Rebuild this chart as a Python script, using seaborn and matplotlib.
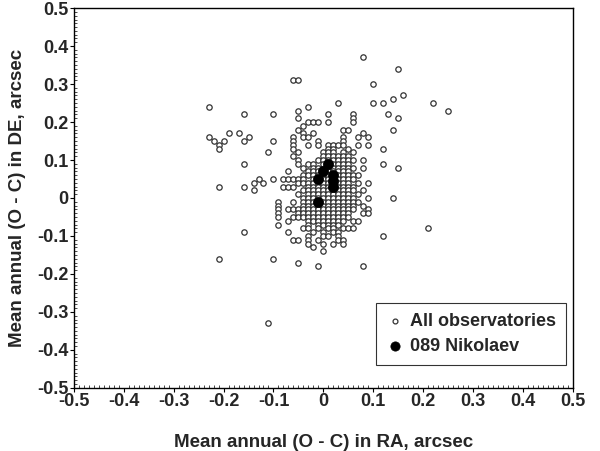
import numpy as np
import pandas as pd
import seaborn as sns
import matplotlib.pyplot as plt
from matplotlib.ticker import MultipleLocator

# DE value of each row (arcsec) and RA values in that row (hundredths of arcsec)
de_rows = [0.37, 0.34, 0.31, 0.30, 0.27, 0.26, 0.25, 0.24, 0.23, 0.22, 0.21, 0.20,
           0.19, 0.18, 0.17, 0.16, 0.15, 0.14, 0.13, 0.12, 0.11, 0.10, 0.09, 0.08,
           0.07, 0.06, 0.05, 0.04, 0.03, 0.02, 0.01, 0.00, -0.01, -0.02, -0.03,
           -0.04, -0.05, -0.06, -0.07, -0.08, -0.09, -0.10, -0.11, -0.12, -0.13,
           -0.14, -0.16, -0.17, -0.18, -0.33]
ra_rows = [
    [8], [15], [-6, -5], [10], [16], [14], [3, 10, 12, 22], [-23, -3], [-5, 25],
    [-16, -10, 1, 6, 13], [-5, 6, 15], [-3, -2, -1, 1, 6], [-4],
    [-5, 4, 5, 14], [-19, -17, -4, -2, 8], [-23, -15, -6, -4, -3, 4, 7, 9],
    [-22, -20, -16, -10, -6, -1, 4], [-21, -6, -3, -1, 1, 2, 3, 4, 7, 9],
    [-21, -6, 1, 2, 5, 12], [-11, -5, 0, 1, 2, 4, 6],
    [-6, 0, 1, 2, 3, 4, 5], [-5, -1, 0, 1, 2, 3, 4, 5, 6, 8],
    [-16, -5, -3, -2, 0, 1, 2, 3, 4, 5, 12],
    [-4, -2, -1, 1, 2, 3, 4, 5, 6, 8, 15],
    [-7, -3, -2, -1, 0, 1, 2, 3, 4, 5],
    [-4, -3, -2, -1, 0, 1, 2, 3, 4, 5, 6, 7],
    [-13, -10, -8, -7, -6, -5, -4, -2, -1, 0, 1, 2, 3, 4, 5, 6],
    [-14, -12, -5, -4, -3, -2, -1, 0, 1, 2, 3, 4, 5, 7, 9],
    [-21, -16, -8, -7, -6, -3, -2, -1, 0, 1, 2, 3, 4, 5, 6],
    [-14, -4, -3, -2, -1, 0, 1, 2, 3, 4, 5, 6, 8],
    [-5, -3, -2, -1, 0, 1, 2, 3, 4, 5, 7],
    [-4, -3, -2, -1, 0, 1, 2, 3, 4, 5, 6, 9, 14],
    [-9, -6, -4, -3, -2, -1, 0, 1, 2, 3, 4, 5, 6, 7],
    [-9, -4, -3, -2, -1, 0, 1, 2, 3, 4, 5, 6, 8],
    [-9, -7, -6, -5, -4, -3, -2, -1, 0, 1, 2, 3, 4, 5, 6, 9],
    [-9, -5, -4, -3, -2, -1, 0, 1, 2, 3, 4, 5, 8, 9],
    [-9, -6, -5, -4, -3, -2, -1, 0, 1, 2, 3, 4, 5],
    [-7, -3, -2, -1, 0, 1, 2, 3, 4, 6, 7],
    [-9, -3, -1, 0, 1, 2, 3],
    [-4, -3, -1, 1, 2, 4, 5, 6, 21],
    [-16, -7, -2, 0, 2, 3],
    [-3, 0, 1, 3, 12],
    [-6, -5, -3, -1, 3, 4],
    [-3, 0, 2, 4], [-2], [0], [-21, -10], [-5], [-1, 8], [-11],
]

# 089 Nikolaev
nik_ra = [0.01, 0.00, -0.01, 0.02, 0.02, 0.02, -0.01]
nik_de = [0.09, 0.07, 0.05, 0.06, 0.045, 0.03, -0.01]

rows = []
for de, ras in zip(de_rows, ra_rows):
    for r in ras:
        rows.append({'RA': r / 100, 'DE': de})
df_all = pd.DataFrame(rows)
df_nik = pd.DataFrame({'RA': nik_ra, 'DE': nik_de})

sns.set_style('white')
plt.rcParams['font.family'] = ['Liberation Sans', 'DejaVu Sans']
plt.rcParams['font.weight'] = 'bold'

fig = plt.figure(figsize=(6, 4.51), dpi=100)
ax = fig.add_axes([0.123, 0.140, 0.832, 0.842])

sns.scatterplot(data=df_all, x='RA', y='DE', ax=ax, s=15, marker='o',
                facecolor='white', edgecolor='#333333', linewidth=0.9,
                label='All observatories')
sns.scatterplot(data=df_nik, x='RA', y='DE', ax=ax, s=55, marker='o',
                color='black', edgecolor='black', linewidth=0.5,
                label='089 Nikolaev')

ax.set_xlim(-0.5, 0.5)
ax.set_ylim(-0.5, 0.5)
ax.xaxis.set_minor_locator(MultipleLocator(0.01))
ax.yaxis.set_minor_locator(MultipleLocator(0.01))

def fmt(v):
    v = round(v, 1)
    if v == 0:
        return '0'
    return ('%.1f' % v)

ticks = np.round(np.arange(-0.5, 0.51, 0.1), 1)
ax.set_xticks(ticks)
ax.set_yticks(ticks)
ax.set_xticklabels([fmt(t) for t in ticks], fontsize=13, fontweight='bold')
ax.set_yticklabels([fmt(t) for t in ticks], fontsize=13, fontweight='bold')
ax.tick_params(which='major', direction='out', length=3, width=0.8, color='black', pad=1)
ax.tick_params(which='minor', direction='in', length=2, width=0.5, color='black',
               bottom=True, left=True)
ax.tick_params(axis='both', which='major', bottom=True, left=True)

for sp in ax.spines.values():
    sp.set_color('black')
    sp.set_linewidth(1.0)

ax.set_xlabel('Mean annual (O - C) in RA, arcsec', fontsize=13.5, fontweight='bold', labelpad=17)
ax.set_ylabel('Mean annual (O - C) in DE, arcsec', fontsize=13.5, fontweight='bold', labelpad=8)

leg = ax.legend(loc='lower right', bbox_to_anchor=(0.985, 0.06), fontsize=13,
                frameon=True, fancybox=False, edgecolor='black', borderpad=0.55,
                labelspacing=0.45, handletextpad=0.3, handlelength=1.0,
                markerscale=0.9, borderaxespad=0)
leg.get_frame().set_linewidth(0.8)
for t in leg.get_texts():
    t.set_fontweight('bold')

fig.savefig('out.png', dpi=100)
